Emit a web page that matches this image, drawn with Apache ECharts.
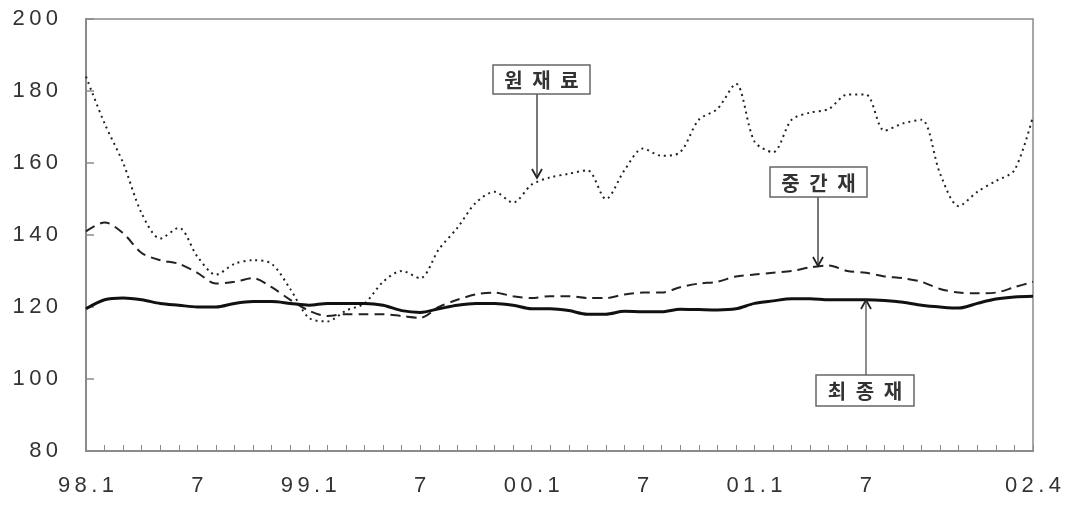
<!DOCTYPE html>
<html>
<head>
<meta charset="utf-8">
<script src="https://cdn.jsdelivr.net/npm/echarts@6/dist/echarts.min.js"></script>
<style>html,body{margin:0;padding:0;background:#fff;}#c{width:1068px;height:505px;}</style>
</head>
<body>
<div id="c"></div>
<script>
const categories = ['98.1','98.2','98.3','98.4','98.5','98.6','98.7','98.8','98.9','98.10','98.11','98.12',
  '99.1','99.2','99.3','99.4','99.5','99.6','99.7','99.8','99.9','99.10','99.11','99.12',
  '00.1','00.2','00.3','00.4','00.5','00.6','00.7','00.8','00.9','00.10','00.11','00.12',
  '01.1','01.2','01.3','01.4','01.5','01.6','01.7','01.8','01.9','01.10','01.11','01.12',
  '02.1','02.2','02.3','02.4'];
const shownTickLabels = ['98.1','98.7','99.1','99.7','00.1','00.7','01.1','01.7','02.4'];
const rawMaterials = [184,171,160,146,139,142,134,129,132,133,132,125,117,116,119,121,127,130,128,136,142,149,152,149,154,156,157,158,150,158,164,162,163,172,175,182,166,163,172,174,175,179,179,169,171,172,157,148,152,155,158,173];
const intermediateGoods = [141,143.5,140.5,135,133,132,129.5,126.5,127,128,125.5,122,119,117.5,118,118,118,117.5,117,120,122,123.5,124,123,122.5,123,123,122.5,122.5,123.5,124,124,125.5,126.5,127,128.5,129,129.5,130,131,131.5,130,129.5,128.5,128,127,125,124,123.8,124,125.5,127];
const finalGoods = [119.5,122,122.5,122,121,120.5,120,120,121,121.5,121.5,121,120.5,121,121,121,120.5,119,118.5,119.5,120.5,121,121,120.5,119.5,119.5,119,118,118,118.8,118.7,118.7,119.4,119.3,119.2,119.5,121,121.7,122.3,122.3,122,122,122,121.8,121.3,120.5,120,119.7,121,122.2,122.8,123];
const seriesNames = ['원재료','중간재','최종재'];

function spaced(s){ return s.split('').join('\u2009'); }

const chart = echarts.init(document.getElementById('c'), null, {renderer:'canvas'});
const axisFont = {fontFamily:'Liberation Sans, Arial, sans-serif', fontSize:22, color:'#333'};

function makeBox(label, x, y, w, h, arrowX, arrowY1, arrowY2, up, arrowColor, arrowW){
  const els = [];
  els.push({type:'rect', shape:{x:x, y:y, width:w, height:h}, style:{fill:'#fff', stroke:'#666', lineWidth:1.5}, z:100});
  const chars = label.split('');
  const pitch = 28;
  const startX = x + w/2 - pitch*(chars.length-1)/2;
  chars.forEach((ch,i)=>{
    els.push({type:'text', x:startX + i*pitch, y:y + h/2 + 1, style:{text:ch, fontFamily:'Noto Sans CJK KR', fontSize:20, fontWeight:'bold', fill:'#333', align:'center', verticalAlign:'middle'}, z:101});
  });
  els.push({type:'line', shape:{x1:arrowX, y1:arrowY1, x2:arrowX, y2:arrowY2}, style:{stroke:arrowColor, lineWidth:arrowW}, z:99});
  const d = up ? 9 : -9;
  els.push({type:'polyline', shape:{points:[[arrowX-5, arrowY2+d],[arrowX, arrowY2],[arrowX+5, arrowY2+d]]}, style:{stroke:'#222', lineWidth:1.8, fill:null}, z:99});
  return els;
}

const option = {
  animation:false,
  backgroundColor:'#fff',
  grid:{left:86, right:35, top:19, bottom:54, show:true, borderColor:'#8a8a8a', borderWidth:1.5, containLabel:false},
  xAxis:{
    type:'category', data:categories, boundaryGap:false,
    axisLine:{lineStyle:{color:'#8a8a8a', width:2}},
    axisTick:{inside:true, interval:0, length:6, lineStyle:{color:'#8a8a8a', width:1}},
    axisLabel:Object.assign({
      interval:function(idx, val){ return shownTickLabels.indexOf(val) >= 0; },
      formatter:function(val){
        if (val.endsWith('.7')) return '7';
        return spaced(val);
      },
      margin:24
    }, axisFont),
    splitLine:{show:false}
  },
  yAxis:{
    type:'value', min:80, max:200, interval:20,
    axisLine:{show:true, lineStyle:{color:'#8a8a8a', width:2}},
    axisTick:{show:true, inside:true, length:8, lineStyle:{color:'#8a8a8a', width:1.5}},
    axisLabel:Object.assign({margin:28, formatter:function(v){ return spaced(String(v)); }}, axisFont),
    splitLine:{show:false}
  },
  series:[
    {name:seriesNames[0], type:'line', data:rawMaterials, showSymbol:false, smooth:0.3,
     lineStyle:{color:'#222', width:2, type:[2,4]}},
    {name:seriesNames[1], type:'line', data:intermediateGoods, showSymbol:false, smooth:0.3,
     lineStyle:{color:'#222', width:2, type:[10,6]}},
    {name:seriesNames[2], type:'line', data:finalGoods, showSymbol:false, smooth:0.3,
     lineStyle:{color:'#111', width:3}}
  ],
  graphic:[].concat(
    makeBox(seriesNames[0], 493, 65, 97, 29, 537, 94, 178, false, '#777', 2),
    makeBox(seriesNames[1], 770, 167, 97, 30, 818, 197, 266, false, '#777', 2),
    makeBox(seriesNames[2], 816, 375, 98, 31, 866, 375, 300, true, '#444', 1.2)
  )
};
chart.setOption(option);
</script>
</body>
</html>
